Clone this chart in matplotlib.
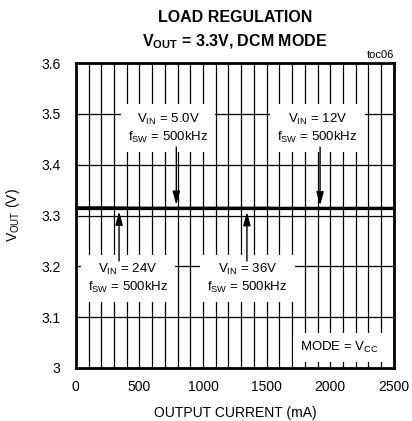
import numpy as np
import matplotlib
matplotlib.use("Agg")
import matplotlib.pyplot as plt

plt.rcParams['font.family'] = ['Liberation Sans', 'DejaVu Sans']
plt.rcParams['mathtext.fontset'] = 'custom'
plt.rcParams['mathtext.rm'] = 'Liberation Sans'
plt.rcParams['mathtext.it'] = 'Liberation Sans'
plt.rcParams['mathtext.bf'] = 'Liberation Sans:bold'

# данные: ток нагрузки (мА) и выходное напряжение (В)
current_ma = [0, 250, 500, 750, 1000, 1250, 1500, 1750, 2000, 2250, 2500]
vout_5v = [3.316, 3.316, 3.315, 3.315, 3.315, 3.315, 3.315, 3.315, 3.315, 3.315, 3.315]
vout_12v = [3.315, 3.315, 3.315, 3.315, 3.315, 3.315, 3.315, 3.314, 3.314, 3.314, 3.314]
vout_24v = [3.314, 3.314, 3.314, 3.314, 3.314, 3.314, 3.314, 3.314, 3.314, 3.314, 3.314]
vout_36v = [3.313, 3.313, 3.313, 3.313, 3.313, 3.313, 3.313, 3.313, 3.313, 3.313, 3.313]

x_ticks = [0, 500, 1000, 1500, 2000, 2500]
y_ticks = [3.0, 3.1, 3.2, 3.3, 3.4, 3.5, 3.6]
y_labels = ['3', '3.1', '3.2', '3.3', '3.4', '3.5', '3.6']

fig = plt.figure(figsize=(4.12, 4.21), dpi=100)
ax = fig.add_axes([0.184, 0.126, 0.772, 0.724])

for v in [vout_5v, vout_12v, vout_24v, vout_36v]:
    ax.plot(current_ma, v, color='k', lw=1.6, zorder=3)

ax.set_xlim(0, 2500)
ax.set_ylim(3.0, 3.6)
ax.set_xticks(x_ticks)
ax.set_yticks(y_ticks)
ax.set_yticklabels(y_labels)
ax.set_xticks(np.arange(0, 2501, 100), minor=True)
ax.tick_params(which='both', length=0, labelsize=10)
ax.tick_params(axis='x', pad=9)
ax.tick_params(axis='y', pad=11)
ax.grid(which='major', axis='y', color='k', lw=0.9)
ax.grid(which='both', axis='x', color='k', lw=0.9)
for s in ax.spines.values():
    s.set_linewidth(2)

ax.set_xlabel('OUTPUT CURRENT (mA)', fontsize=10, labelpad=8)
ax.set_ylabel(r'V$_{\rm OUT}$ (V)', fontsize=10, labelpad=14)
ax.set_title('LOAD REGULATION\n' + r'V$_{\bf OUT}$ = 3.3V, DCM MODE',
             fontsize=11.5, fontweight='bold', pad=12, linespacing=1.6)
ax.text(1.0, 1.01, 'toc06', transform=ax.transAxes, ha='right', va='bottom', fontsize=8)

box = dict(facecolor='white', edgecolor='none', pad=5)
notes = [
    ('V$_{\\rm IN}$ = 5.0V\nf$_{\\rm SW}$ = 500kHz', (790, 3.3155), (725, 3.472), 'down'),
    ('V$_{\\rm IN}$ = 12V\nf$_{\\rm SW}$ = 500kHz', (1920, 3.3145), (1900, 3.472), 'down'),
    ('V$_{\\rm IN}$ = 24V\nf$_{\\rm SW}$ = 500kHz', (340, 3.3135), (410, 3.176), 'up'),
    ('V$_{\\rm IN}$ = 36V\nf$_{\\rm SW}$ = 500kHz', (1345, 3.3125), (1350, 3.176), 'up'),
]
for txt, xy, xytext, d in notes:
    ax.text(xytext[0], xytext[1], txt, ha='center', va='center', fontsize=9.5,
            bbox=box, zorder=4, linespacing=1.3)
    start_y = 3.44 if d == 'down' else 3.205
    ax.annotate('', xy=xy, xytext=(xy[0], start_y),
                arrowprops=dict(arrowstyle='-|>,head_length=0.8,head_width=0.22',
                                color='k', lw=1), zorder=5)

ax.text(2075, 3.04, 'MODE = V$_{\\rm CC}$', ha='center', va='center', fontsize=9.5,
        bbox=dict(facecolor='white', edgecolor='none', pad=5), zorder=4)

fig.savefig('out.png', dpi=100)
